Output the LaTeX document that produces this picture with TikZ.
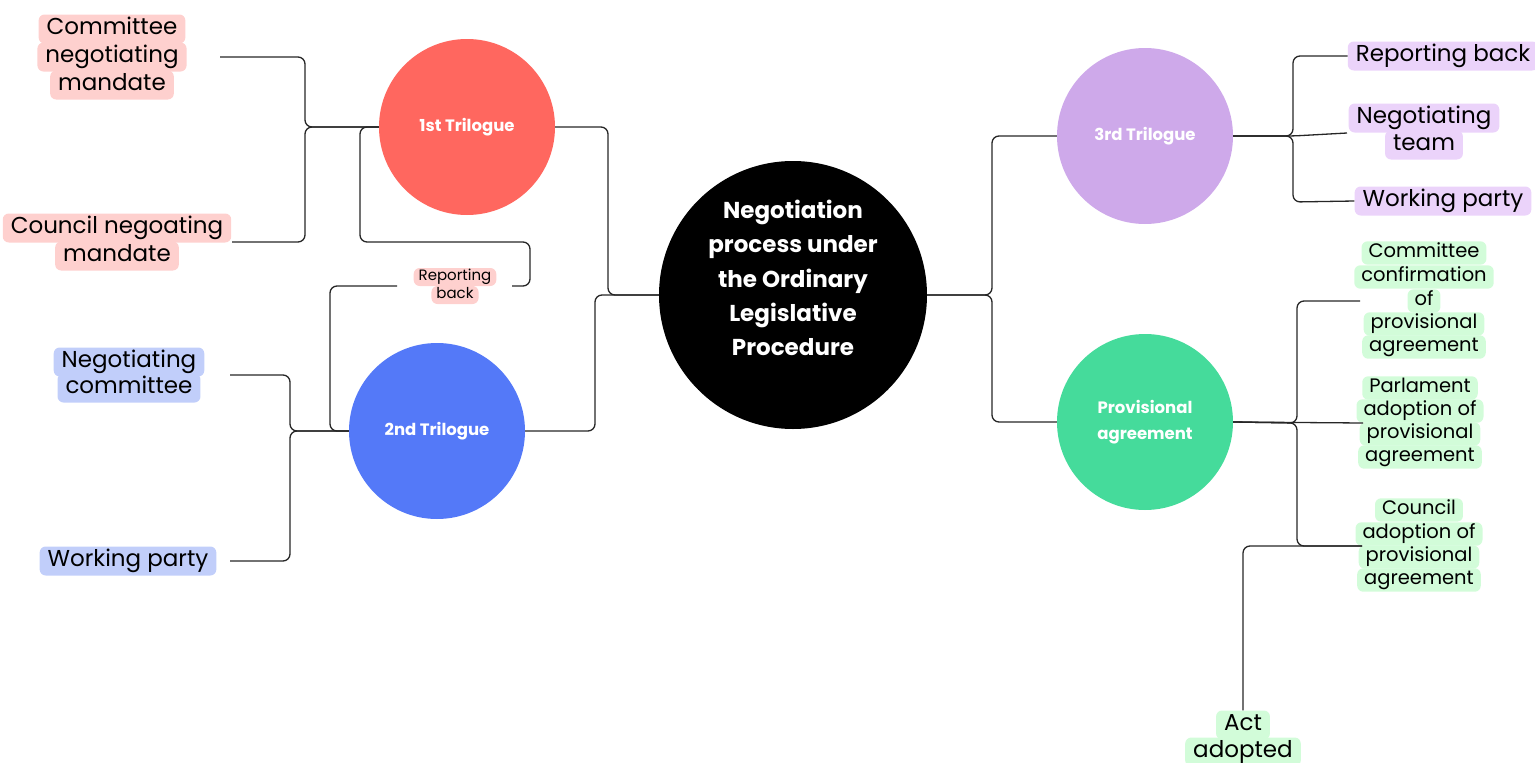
\documentclass[tikz,border=0pt]{standalone}
\usepackage{fontspec}
\setmainfont{Poppins}

\definecolor{redHub}{HTML}{FF675F}
\definecolor{blueHub}{HTML}{5479F8}
\definecolor{lilacHub}{HTML}{CEA9EA}
\definecolor{greenHub}{HTML}{45DB9B}
\definecolor{redTag}{HTML}{FED0CE}
\definecolor{blueTag}{HTML}{C1CEFA}
\definecolor{lilacTag}{HTML}{EBD3FA}
\definecolor{greenTag}{HTML}{D2FCD9}

\tikzset{
	link/.style={draw=black!85, line width=1.3pt, rounded corners=7pt},
	hub/.style={circle, minimum size=176pt, inner sep=0pt, text=white, align=center,
		font=\fontsize{16.5}{26}\selectfont\bfseries},
	tag/.style={rounded corners=6pt, inner xsep=8pt, inner ysep=3.5pt, text height=16.5pt,
		text depth=5.5pt, font=\fontsize{23}{28}\selectfont},
	smalltag/.style={tag, inner xsep=7pt, inner ysep=3.2pt, text height=13pt, text depth=4pt,
		font=\fontsize{19.5}{23}\selectfont},
	tinytag/.style={tag, inner xsep=5pt, inner ysep=2pt, text height=10.5pt, text depth=3.5pt,
		font=\fontsize{15}{18}\selectfont},
	redtag/.style={tag, fill=redTag},
	bluetag/.style={tag, fill=blueTag},
	lilactag/.style={tag, fill=lilacTag},
	greentag/.style={smalltag, fill=greenTag},
}

\begin{document}
\begin{tikzpicture}[x=1pt, y=-1pt]
			\useasboundingbox (0,0) rectangle (1535,763);

			% hubs
			\node[circle, fill=black, minimum size=268pt, inner sep=0pt] (main) at (793,295) {};
			\node[text=white, align=center, font=\fontsize{23}{34.3}\selectfont\bfseries] (mainlbl)
				at (793,278) {Negotiation\\process under\\the Ordinary\\Legislative\\Procedure};
			\node[hub, fill=redHub] (t1) at (467,127) {1st Trilogue};
			\node[hub, fill=blueHub] (t2) at (437,431) {2nd Trilogue};
			\node[hub, fill=lilacHub] (t3) at (1145,136) {3rd Trilogue};
			\node[hub, fill=greenHub] (pa) at (1145,422) {Provisional\\agreement};

			% left tags
			\node[redtag] (cnm1) at (112,29) {Committee};
			\node[redtag] (cnm2) at (112,57) {negotiating};
			\node[redtag] (cnm3) at (112,85) {mandate};
			\node[redtag] (cou1) at (117,228) {Council negoating};
			\node[redtag] (cou2) at (117,256) {mandate};
			\node[tinytag, fill=redTag] (rep1) at (455,277) {Reporting};
			\node[tinytag, fill=redTag] (rep2) at (455,295) {back};
			\node[bluetag] (nc1) at (129,362) {Negotiating};
			\node[bluetag] (nc2) at (129,388) {committee};
			\node[bluetag] (wp2) at (128,561) {Working party};

			% right tags
			\node[lilactag] (rb3) at (1443,56) {Reporting back};
			\node[lilactag] (nt1) at (1424,118) {Negotiating};
			\node[lilactag] (nt2) at (1424,145) {team};
			\node[lilactag] (wp3) at (1443,201) {Working party};

			\node[greentag] (cc1) at (1424,253) {Committee};
			\node[greentag] (cc2) at (1424,277) {confirmation};
			\node[greentag] (cc3) at (1424,301) {of};
			\node[greentag] (cc4) at (1424,324) {provisional};
			\node[greentag] (cc5) at (1424,347) {agreement};
			\node[greentag] (pa1) at (1420,388) {Parlament};
			\node[greentag] (pa2) at (1420,411) {adoption of};
			\node[greentag] (pa3) at (1420,434) {provisional};
			\node[greentag] (pa4) at (1420,457) {agreement};
			\node[greentag] (ca1) at (1419,510) {Council};
			\node[greentag] (ca2) at (1419,534) {adoption of};
			\node[greentag] (ca3) at (1419,557) {provisional};
			\node[greentag] (ca4) at (1419,580) {agreement};
			\node[tag, fill=greenTag] (act1) at (1243,725) {Act};
			\node[tag, fill=greenTag] (act2) at (1243,752) {adopted};

			% free ends of the links
			\coordinate (cnmIn) at (220,57);
			\coordinate (couIn) at (232,242);
			\coordinate (repR) at (512,286);
			\coordinate (repL) at (397,286);
			\coordinate (ncIn) at (230,375);
			\coordinate (wpIn) at (230,561);
			\coordinate (ntIn) at (1347,133);
			\coordinate (ccIn) at (1360,301);
			\coordinate (paIn) at (1363,423);
			\coordinate (caIn) at (1362,546);

			% links
			\draw[link] (main.west) -- (608,295) -- (608,127) -- (t1.east);
			\draw[link] (main.west) -- (595,295) -- (595,431) -- (t2.east);
			\draw[link] (main.east) -- (992,295) -- (992,136) -- (t3.west);
			\draw[link] (main.east) -- (992,295) -- (992,422) -- (pa.west);

			\draw[link] (t1.west) -- (305,127) -- (305,57) -- (cnmIn);
			\draw[link] (t1.west) -- (305,127) -- (305,242) -- (couIn);
			\draw[link] (t1.west) -- (360,127) -- (360,242) -- (530,242) -- (530,286) -- (repR);
			\draw[link] (repL) -- (330,286) -- (330,431) -- (t2.west);

			\draw[link] (t2.west) -- (290,431) -- (290,375) -- (ncIn);
			\draw[link] (t2.west) -- (290,431) -- (290,561) -- (wpIn);

			\draw[link] (t3.east) -- (1293,136) -- (1293,56) -- (rb3.west);
			\draw[link] (t3.east) -- (1293,136) -- (ntIn);
			\draw[link] (t3.east) -- (1293,136) -- (1293,202) -- (wp3.west);

			\draw[link] (pa.east) -- (1297,423) -- (1297,301) -- (ccIn);
			\draw[link] (pa.east) -- (paIn);
			\draw[link] (pa.east) -- (1297,423) -- (1297,546) -- (caIn);
			\draw[link] (caIn) -- (1243,546) -- (act1.north);
		\end{tikzpicture}
\end{document}
